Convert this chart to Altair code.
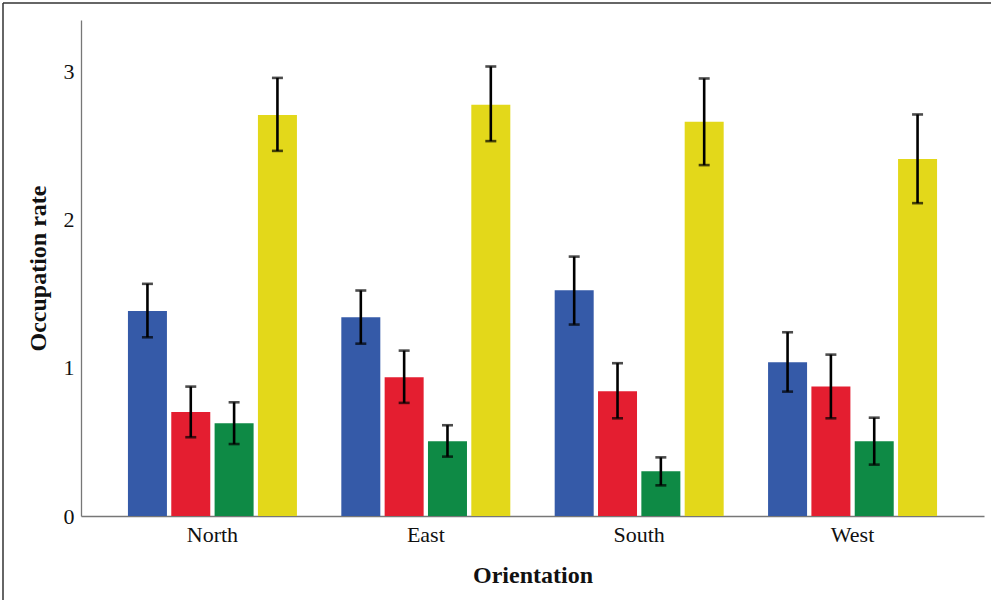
import altair as alt
import pandas as pd

# Occupation rate by wall orientation, four groups per orientation
orientations = ["North", "East", "South", "West"]
groups = ["Group 1", "Group 2", "Group 3", "Group 4"]
colors = ["#355AA8", "#E41E30", "#0E8A45", "#E3D81A"]

means = {
    "Group 1": [1.385, 1.342, 1.525, 1.038],
    "Group 2": [0.703, 0.937, 0.842, 0.874],
    "Group 3": [0.626, 0.505, 0.302, 0.505],
    "Group 4": [2.709, 2.777, 2.662, 2.412],
}
lower = {
    "Group 1": [1.207, 1.164, 1.293, 0.840],
    "Group 2": [0.532, 0.764, 0.660, 0.660],
    "Group 3": [0.486, 0.401, 0.207, 0.347],
    "Group 4": [2.466, 2.532, 2.370, 2.113],
}
upper = {
    "Group 1": [1.568, 1.523, 1.752, 1.241],
    "Group 2": [0.874, 1.117, 1.032, 1.090],
    "Group 3": [0.768, 0.613, 0.396, 0.664],
    "Group 4": [2.959, 3.036, 2.955, 2.712],
}

rows = []
for g in groups:
    for i, o in enumerate(orientations):
        rows.append({"orientation": o, "group": g, "mean": means[g][i],
                     "lo": lower[g][i], "hi": upper[g][i]})
df = pd.DataFrame(rows)

W, H = 903, 496
FONT = "Liberation Serif"

x_enc = alt.X("orientation:N", sort=orientations, title="Orientation",
              scale=alt.Scale(paddingInner=0.208, paddingOuter=0.22),
              axis=alt.Axis(labelAngle=0, ticks=False, labelPadding=8,
                            titlePadding=18))
xo_enc = alt.XOffset("group:N", sort=groups,
                     scale=alt.Scale(paddingInner=0.1, paddingOuter=0))
y_scale = alt.Scale(domain=[0, 3.35], nice=False)

base = alt.Chart(df)

bars = base.mark_bar().encode(
    x=x_enc,
    xOffset=xo_enc,
    y=alt.Y("mean:Q", scale=y_scale, title="Occupation rate",
            axis=alt.Axis(values=[0, 1, 2, 3], format="d", ticks=False,
                          grid=False, labelPadding=7, titlePadding=13)),
    color=alt.Color("group:N", sort=groups,
                    scale=alt.Scale(domain=groups, range=colors), legend=None),
)

stems = base.mark_rule(color="black", strokeWidth=2.6).encode(
    x=alt.X("orientation:N", sort=orientations),
    xOffset=xo_enc,
    y=alt.Y("lo:Q", scale=y_scale),
    y2="hi:Q",
)

caps_lo = base.mark_tick(color="black", size=11, thickness=2.6,
                         orient="horizontal").encode(
    x=alt.X("orientation:N", sort=orientations),
    xOffset=xo_enc,
    y=alt.Y("lo:Q", scale=y_scale),
)
caps_hi = base.mark_tick(color="black", size=11, thickness=2.6,
                         orient="horizontal").encode(
    x=alt.X("orientation:N", sort=orientations),
    xOffset=xo_enc,
    y=alt.Y("hi:Q", scale=y_scale),
)

# frame lines along the top and left edges of the figure
one = pd.DataFrame({"f": [0]})
frame_top = alt.Chart(one).mark_rule(color="#333333", strokeWidth=1.5).encode(
    x=alt.value(-78), x2=alt.value(W + 10), y=alt.value(-17),
)
frame_left = alt.Chart(one).mark_rule(color="#333333", strokeWidth=1.5).encode(
    x=alt.value(-78), y=alt.value(-17), y2=alt.value(H + 84),
)

chart = alt.layer(bars, stems, caps_lo, caps_hi, frame_top, frame_left).properties(
    width=W, height=H,
    background="white",
    autosize=alt.AutoSizeParams(type="none"),
    padding={"left": 81, "top": 20, "right": 7, "bottom": 84},
).configure_view(stroke=None).configure_axis(
    domainColor="#777777", domainWidth=1.3,
    labelFont=FONT, labelFontSize=22, labelColor="#111111",
    titleFont=FONT, titleFontSize=24, titleFontWeight="bold",
    titleColor="#111111",
)

chart.save("out.html", embed_options={"renderer": "svg", "actions": False})
